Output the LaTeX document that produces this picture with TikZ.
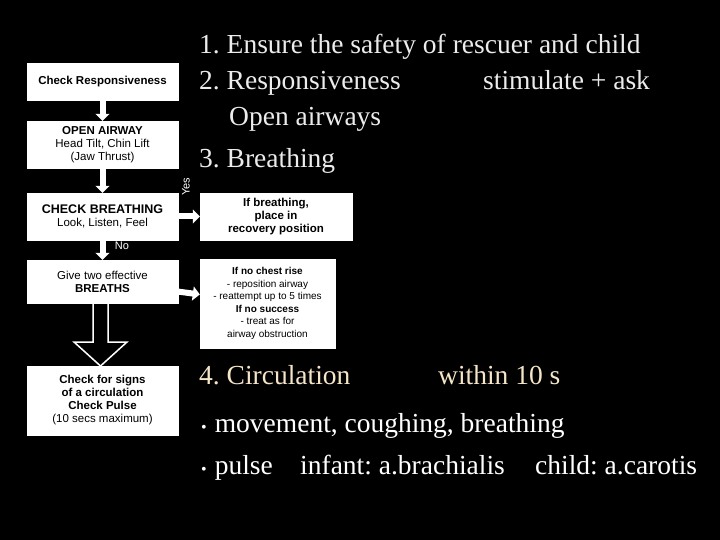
\documentclass[tikz,border=0pt]{standalone}
\usepackage{fontspec}
\setmainfont{Liberation Serif}
\newfontfamily\arial{Liberation Sans}
\usetikzlibrary{arrows.meta}
\frenchspacing
\begin{document}
\begin{tikzpicture}[x=1pt,y=-1pt,
  box/.style={draw=white,fill=white,text=black,inner sep=0pt,align=center,font=\arial\fontsize{11.5}{13}\selectfont},
  big/.style={text=gray!15,anchor=base west,font=\fontsize{27.5}{30}\selectfont,inner sep=0pt},
  arr/.style={-{Triangle[length=7pt,width=14pt]},white,line width=6pt}]
\fill[black] (0,0) rectangle (720,540);
\useasboundingbox (0,0) rectangle (720,540);
\node[box,minimum width=151,minimum height=37] (b1) at (102.5,81.5) {\bfseries Check Responsiveness};
\node[box,minimum width=151,minimum height=47] (b2) at (102.5,144.5) {{\bfseries OPEN AIRWAY}\\Head Tilt, Chin Lift\\(Jaw Thrust)};
\node[box,minimum width=151,minimum height=47] (b3) at (102.5,216.5) {{\bfseries\fontsize{12.5}{15}\selectfont CHECK BREATHING}\\Look, Listen, Feel};
\node[box,minimum width=152,minimum height=47] (b4) at (276,216.5) {\bfseries If breathing,\\\bfseries place in\\\bfseries recovery position};
\node[box,minimum width=151,minimum height=43] (b5) at (102.5,281.5) {Give two effective\\\bfseries BREATHS};
\node[box,minimum width=135,minimum height=89,font=\arial\fontsize{10}{12.5}\selectfont] (b6) at (267.5,303.5) {\bfseries If no chest rise\\- reposition airway\\- reattempt up to 5 times\\\bfseries If no success\\- treat as for\\airway obstruction};
\node[box,minimum width=151,minimum height=69] (b7) at (102.5,400.5) {\bfseries Check for signs\\\bfseries of a circulation\\\bfseries Check Pulse\\(10 secs maximum)};
\draw[arr] (b1) -- (b2);
\draw[arr] (b2) -- (b3);
\draw[arr] (b3) -- (b5);
\draw[arr] (b3) -- (b4);
\draw[arr] (b5) -- (b6);
\draw[white,line width=1.5pt,fill=black] (93,303) -- (108,303) -- (108,342) -- (127,342) -- (100.5,366) -- (74,342) -- (93,342) -- cycle;
\node[text=white,font=\arial\fontsize{11}{12}\selectfont,rotate=90] (yes) at (186,187) {Yes};
\node[text=white,font=\arial\fontsize{11}{12}\selectfont] (no) at (122,246) {No};
\node[big] (t1) at (199,54) {1. Ensure the safety of rescuer and child};
\node[big] (t2) at (199,90) {2. Responsiveness};
\node[big] (t2b) at (483,90) {stimulate + ask};
\node[big] (t2c) at (229,126) {Open airways};
\node[big] (t3) at (199,168) {3. Breathing};
\node[big,text={rgb,255:red,245;green,230;blue,200}] (t4) at (199,384) {4. Circulation};
\node[big,text={rgb,255:red,245;green,230;blue,200}] (t4b) at (438,384) {within 10 s};
\node[big,text=white] (t5) at (201,432) {\fontsize{16}{16}\selectfont\textbullet\hspace{8pt}\fontsize{27.5}{30}\selectfont movement, coughing, breathing};
\node[big,text=white] (t6) at (201,474) {\fontsize{16}{16}\selectfont\textbullet\hspace{8pt}\fontsize{27.5}{30}\selectfont pulse};
\node[big,text=white] (t6b) at (300,474) {infant: a.brachialis};
\node[big,text=white] (t6c) at (535,474) {child: a.carotis};
\end{tikzpicture}
\end{document}
